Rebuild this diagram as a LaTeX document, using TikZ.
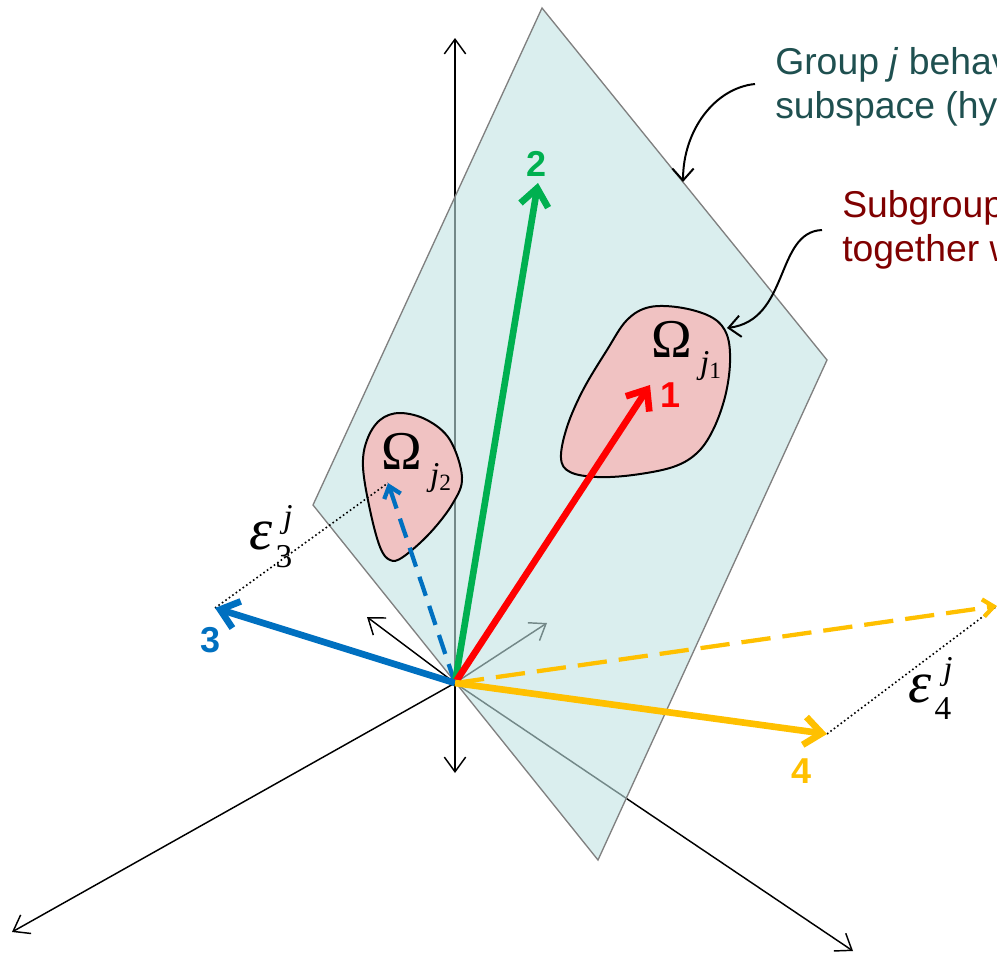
\documentclass[tikz,border=0pt]{standalone}
\usepackage{fontspec}
\setmainfont{Liberation Serif}
\setsansfont{Liberation Sans}
\usetikzlibrary{arrows.meta}

\definecolor{planecol}{HTML}{C1E3E3}
\definecolor{blobcol}{HTML}{F0C2C2}
\definecolor{vgreen}{HTML}{00B050}
\definecolor{vred}{HTML}{FF0000}
\definecolor{vblue}{HTML}{0070C0}
\definecolor{vyellow}{HTML}{FFC000}
\definecolor{grpcol}{HTML}{1F5050}
\definecolor{subcol}{HTML}{7F0000}

\tikzset{
  axisarrow/.style={line width=1.1pt,-{Straight Barb[length=11pt,width=16pt]}},
  vec/.style={line width=5pt,-{Straight Barb[length=13pt,width=21pt]}},
  dvec/.style={line width=3.2pt,-{Straight Barb[length=8pt,width=13pt]}},
  plane/.style={fill=planecol,fill opacity=0.6,draw=gray,line width=1pt},
  blob/.style={fill=blobcol,draw=black,line width=1.5pt},
  veclab/.style={font=\sffamily\bfseries\fontsize{27}{27}\selectfont,inner sep=0pt},
  eps/.style={font=\itshape\fontsize{44}{44}\selectfont,inner sep=0pt},
  idx/.style={font=\fontsize{25}{25}\selectfont,inner sep=0pt},
  grptxt/.style={font=\sffamily\fontsize{28}{28}\selectfont,text=grpcol,inner sep=0pt,anchor=base west},
  subtxt/.style={font=\sffamily\fontsize{28}{28}\selectfont,text=subcol,inner sep=0pt,anchor=base west},
  callout/.style={line width=1.5pt,-{Straight Barb[length=9pt,width=16pt]}}
}

\begin{document}
\begin{tikzpicture}[x=0.75pt,y=-0.75pt]
  \useasboundingbox (0,0) rectangle (997,953);
  \clip (0,0) rectangle (997,953);

  \coordinate (O) at (455,683);
  \coordinate (up) at (455,38);
  \coordinate (dn) at (455,773);
  \coordinate (ll) at (12,932);
  \coordinate (lr) at (853,951);
  \coordinate (ul) at (367,617);
  \coordinate (ur) at (547,623);
  \foreach \t in {up,dn,ll,lr,ul,ur} {\draw[axisarrow] (O) -- (\t);}

  \filldraw[plane] (542,8) -- (827,360) -- (598,860) -- (313,505) -- cycle;

  \draw[blob] plot[smooth cycle,tension=0.6] coordinates {(650,307) (683,308) (713,318) (727,335) (730,363) (725,397) (713,430) (697,453) (673,467) (633,475) (597,477) (570,472) (561,458) (567,427) (583,390) (607,350) (627,320)};
  \draw[blob] plot[smooth cycle,tension=0.6] coordinates {(400,413) (427,420) (450,440) (462,477) (453,503) (430,533) (403,557) (390,560) (380,547) (370,510) (363,467) (367,440) (380,420)};

  \node[font=\fontsize{41}{41}\selectfont,inner sep=0pt] (om1) at (672,339) {Ω};
  \node[idx] (om1j) at (711,366) {\textit{j}\textsubscript{1}};
  \node[font=\fontsize{41}{41}\selectfont,inner sep=0pt] (om2) at (402,451) {Ω};
  \node[idx] (om2j) at (441,478) {\textit{j}\textsubscript{2}};

  \coordinate (v1) at (650,385);
  \coordinate (v2) at (538,183);
  \coordinate (v3) at (215,608);
  \coordinate (v4) at (827,734);
  \coordinate (p3) at (388,483);
  \coordinate (p4) at (997,606);

  \draw[dotted,line width=1.2pt] (v3) -- (p3);
  \draw[dotted,line width=1.2pt] (v4) -- (p4);
  \draw[dvec,vblue,dash pattern=on 15pt off 8pt] (O) -- (p3);
  \draw[dvec,vyellow,dash pattern=on 22pt off 9pt] (O) -- (p4);
  \foreach \t/\c in {v2/vgreen,v1/vred,v3/vblue,v4/vyellow} {\draw[vec,\c] (O) -- (\t);}

  \node[veclab,text=vred] (l1) at (671,395) {1};
  \node[veclab,text=vgreen] (l2) at (537,164) {2};
  \node[veclab,text=vblue] (l3) at (211,640) {3};
  \node[veclab,text=vyellow] (l4) at (802,771) {4};

  \node[eps] (e3) at (261,536) {ε};
  \node[idx,font=\itshape\fontsize{25}{25}\selectfont] (e3j) at (288,520) {j};
  \node[idx] (e3n) at (284,557) {3};
  \node[eps] (e4) at (920,689) {ε};
  \node[idx,font=\itshape\fontsize{25}{25}\selectfont] (e4j) at (948,672) {j};
  \node[idx] (e4n) at (943,709) {4};

  \node[grptxt] (grp1) at (775,74) {Group \textit{j} behav};
  \node[grptxt] (grp2) at (775,118) {subspace (hy};
  \node[subtxt] (sub1) at (842,217) {Subgroup};
  \node[subtxt] (sub2) at (842,261) {together w};

  \coordinate (grpa) at (755,84);
  \coordinate (grpb) at (683,182);
  \coordinate (suba) at (822,230);
  \coordinate (subb) at (727,328);
  \draw[callout] (grpa) .. controls (715,88) and (683,130) .. (grpb);
  \draw[callout] (suba) .. controls (775,232) and (790,320) .. (subb);
\end{tikzpicture}
\end{document}
